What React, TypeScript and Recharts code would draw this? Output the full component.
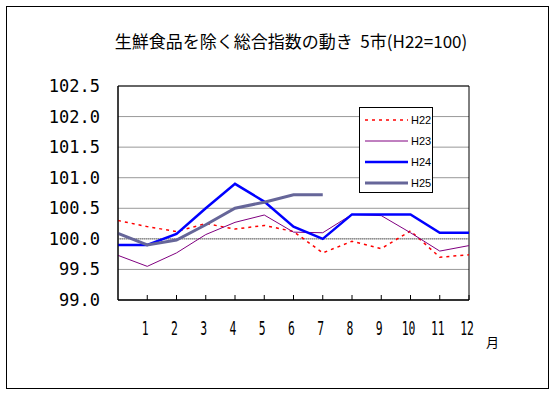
import React from "react";
import { LineChart, Line, XAxis, YAxis, CartesianGrid, ReferenceLine, ReferenceArea, Legend } from "recharts";

// ── Data (month 0 = previous December, then 1..12) ─────────────────────────────
const MONTHS = [0, 1, 2, 3, 4, 5, 6, 7, 8, 9, 10, 11, 12];
const MONTH_TICKS = [1, 2, 3, 4, 5, 6, 7, 8, 9, 10, 11, 12];
const Y_TICKS = [99.0, 99.5, 100.0, 100.5, 101.0, 101.5, 102.0, 102.5];

const H22 = [100.3, 100.2, 100.12, 100.25, 100.16, 100.22, 100.12, 99.77, 99.96, 99.84, 100.13, 99.7, 99.74];
const H23 = [99.73, 99.55, 99.77, 100.07, 100.27, 100.39, 100.11, 100.1, 100.4, 100.38, 100.1, 99.8, 99.89];
const H24 = [99.9, 99.9, 100.08, 100.5, 100.9, 100.61, 100.2, 100.0, 100.4, 100.4, 100.4, 100.1, 100.1];
const H25 = [100.09, 99.9, 99.98, 100.23, 100.5, 100.6, 100.72, 100.72];

const SERIES = [
    { key: "H22", color: "#ff0000", width: 1.5, dash: "3 4" },
    { key: "H23", color: "#800080", width: 1, dash: undefined },
    { key: "H24", color: "#0000ff", width: 2.5, dash: undefined },
    { key: "H25", color: "#666699", width: 3, dash: undefined },
];

const data = MONTHS.map((m, i) => ({
    m,
    H22: H22[i],
    H23: H23[i],
    H24: H24[i],
    H25: i < H25.length ? H25[i] : null,
}));

// ── Ticks ───────────────────────────────────────────────────────────────────────
const YTick = ({ x, y, payload }: any) => (
    <text x={x} y={y} textAnchor="end" dominantBaseline="central"
        fontFamily="'DejaVu Sans Mono', monospace" fontSize={17} fill="#000">
        {Number(payload.value).toFixed(1)}
    </text>
);

const XTick = ({ x, y, payload }: any) => (
    <g>
        <line x1={x} y1={y} x2={x} y2={y - 5} stroke="#000" strokeWidth={1} />
        <text x={0} y={0} textAnchor="middle" dominantBaseline="central"
            transform={`translate(${x - 2},${y + 28}) scale(0.6,1)`}
            fontFamily="'DejaVu Sans Mono', monospace" fontSize={19} fill="#000">
            {payload.value}
        </text>
    </g>
);

// ── Legend ──────────────────────────────────────────────────────────────────────
const LegendBox = () => (
    <div style={{ width: 72, height: 84, border: "1px solid #000", background: "#fff", position: "relative" }}>
        <svg width={72} height={84} style={{ position: "absolute", left: 0, top: 0 }}>
            {SERIES.map((s, i) => (
                <g key={s.key}>
                    <line x1={5} x2={48} y1={12 + i * 21} y2={12 + i * 21}
                        stroke={s.color} strokeWidth={s.width} strokeDasharray={s.dash} />
                    <text x={51} y={12 + i * 21} dominantBaseline="central"
                        fontFamily="'Liberation Sans', sans-serif" fontSize={11} fill="#000">
                        {s.key}
                    </text>
                </g>
            ))}
        </svg>
    </div>
);

export default function App() {
    return (
        <div style={{ position: "absolute", left: 0, top: 0, width: 556, height: 394, background: "#fff" }}>
            <div style={{
                position: "absolute", left: 6, top: 6, width: 543, height: 383,
                border: "1px solid #000", boxSizing: "border-box",
            }} />
            <div style={{
                position: "absolute", left: 13, top: 30, width: 556, textAlign: "center", whiteSpace: "pre",
                fontFamily: "'Noto Sans CJK JP', sans-serif", fontSize: 17, lineHeight: "22px", color: "#000",
            }}>
                {"生鮮食品を除く総合指数の動き  5市(H22=100)"}
            </div>
            <LineChart width={556} height={394} data={data}
                margin={{ top: 86, right: 87, bottom: 54, left: 0 }}>
                <CartesianGrid vertical={false} stroke="#999" />
                <ReferenceLine y={100} stroke="#777" strokeDasharray="1 1" />
                <ReferenceArea x1={0} x2={12} y1={99} y2={102.5} fill="none" stroke="#000" strokeWidth={1} />
                <XAxis type="number" dataKey="m" domain={[0, 12]} ticks={MONTH_TICKS}
                    tickSize={0} tickMargin={0} height={40} interval={0}
                    axisLine={{ stroke: "#000" }} tickLine={false} tick={<XTick />}
                    label={{ value: "月", position: "right", dx: 12, dy: 22, fontSize: 13, fill: "#000",
                        fontFamily: "'Noto Sans CJK JP', sans-serif" }} />
                <YAxis domain={[99, 102.5]} ticks={Y_TICKS} width={118} tickSize={0} tickMargin={18}
                    axisLine={{ stroke: "#000" }} tickLine={false} tick={<YTick />} interval={0} />
                <Legend layout="vertical" align="center" verticalAlign="middle" content={<LegendBox />}
                    wrapperStyle={{ left: 359, top: 107, width: 74, height: 86 }} />
                {SERIES.map((s) => (
                    <Line key={s.key} type="linear" dataKey={s.key} stroke={s.color}
                        strokeWidth={s.width} strokeDasharray={s.dash} dot={false}
                        activeDot={false} isAnimationActive={false} connectNulls={false} />
                ))}
            </LineChart>
        </div>
    );
}
